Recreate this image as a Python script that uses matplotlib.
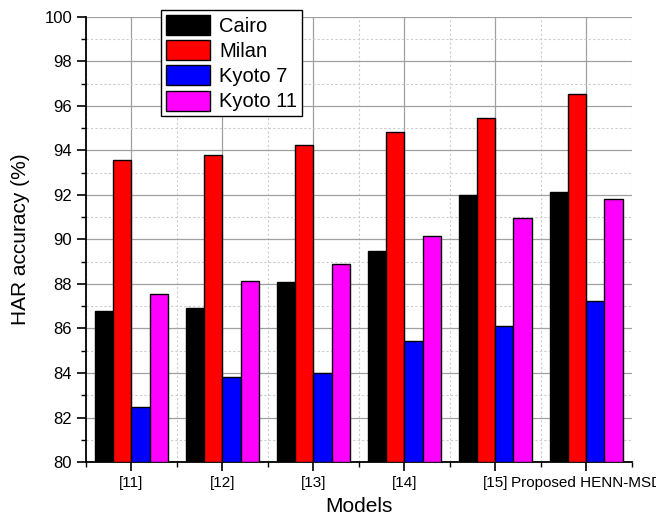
import numpy as np
import matplotlib.pyplot as plt
from matplotlib.ticker import MultipleLocator

plt.rcParams['font.family'] = ['Liberation Sans', 'DejaVu Sans']

# data
models = ["[11]", "[12]", "[13]", "[14]", "[15]", "Proposed HENN-MSD"]
cairo = [86.8, 86.9, 88.1, 89.5, 92.0, 92.15]
milan = [93.55, 93.8, 94.25, 94.85, 95.45, 96.55]
kyoto7 = [82.45, 83.8, 84.0, 85.45, 86.1, 87.25]
kyoto11 = [87.55, 88.15, 88.9, 90.15, 90.95, 91.8]

series = [("Cairo", cairo, "black"), ("Milan", milan, "red"),
          ("Kyoto 7", kyoto7, "blue"), ("Kyoto 11", kyoto11, "magenta")]

fig = plt.figure(figsize=(6.56, 5.23), dpi=100)
ax = fig.add_axes([0.131, 0.1166, 0.832, 0.851])

x = np.arange(1, len(models) + 1)
w = 0.2
for i, (name, vals, col) in enumerate(series):
    ax.bar(x + (i - 1.5) * w, np.array(vals) - 80, bottom=80, width=w,
           color=col, edgecolor="black", linewidth=1.0, label=name, zorder=3)

ax.set_xlim(0.5, 6.5)
ax.set_ylim(80, 100)
ax.set_xticks(x)
ax.set_xticklabels(models, fontsize=11)
ax.xaxis.set_minor_locator(MultipleLocator(0.5))
ax.yaxis.set_major_locator(MultipleLocator(2))
ax.yaxis.set_minor_locator(MultipleLocator(1))
ax.tick_params(axis="y", labelsize=12)
ax.tick_params(which="major", direction="out", length=6.5, width=1.2, pad=3.5)
ax.tick_params(which="minor", direction="out", length=3.5, width=1.0)

ax.grid(which="major", color="#a0a0a0", linewidth=0.9, zorder=0)
ax.grid(which="minor", color="#cccccc", linestyle=(0, (2, 2)), linewidth=0.8, zorder=0)
ax.set_axisbelow(True)

ax.spines["top"].set_visible(False)
ax.spines["right"].set_visible(False)
ax.spines["left"].set_linewidth(1.3)
ax.spines["bottom"].set_linewidth(1.3)

ax.set_xlabel("Models", fontsize=15, labelpad=5)
ax.set_ylabel("HAR accuracy (%)", fontsize=15, labelpad=10)

leg = ax.legend(loc="upper left", bbox_to_anchor=(0.137, 1.016), fontsize=14.5,
                handlelength=2.2, handleheight=1.15, handletextpad=0.45,
                labelspacing=0.22, borderpad=0.25, borderaxespad=0,
                fancybox=False, edgecolor="black", framealpha=1)
leg.get_frame().set_linewidth(1.0)

plt.savefig("out.png", dpi=100)
plt.close()
